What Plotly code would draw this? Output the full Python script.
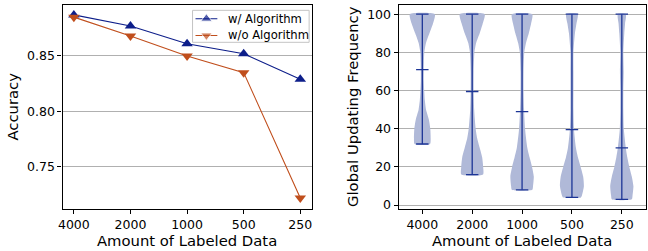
import plotly.graph_objects as go

# ---------------- data ----------------
categories = ["4000", "2000", "1000", "500", "250"]
series_names = ["w/ Algorithm", "w/o Algorithm"]
acc_with = [0.887, 0.877, 0.861, 0.852, 0.829]
acc_without = [0.885, 0.868, 0.850, 0.835, 0.722]

freq_min = [32, 16, 8, 4, 3]
freq_max = [100, 100, 100, 100, 100]
freq_mean = [71, 59.5, 49, 39.5, 30]

# density profiles (relative width, 1 = widest)
v1_levels = [32, 35, 40, 45, 50, 55, 60, 65, 70, 75, 80, 85, 90, 95, 100]
v1_dens = [0.62, 0.67, 0.64, 0.52, 0.30, 0.20, 0.15, 0.12, 0.12, 0.13, 0.16, 0.30, 0.57, 0.85, 1.00]
v2_levels = [16, 20, 25, 30, 35, 40, 50, 60, 70, 80, 85, 90, 95, 100]
v2_dens = [0.87, 0.88, 0.80, 0.60, 0.40, 0.28, 0.16, 0.12, 0.12, 0.18, 0.32, 0.60, 0.84, 1.00]
v3_levels = [8, 10, 15, 20, 25, 30, 40, 50, 60, 70, 80, 85, 90, 95, 100]
v3_dens = [0.82, 0.88, 0.94, 0.80, 0.60, 0.42, 0.24, 0.16, 0.12, 0.12, 0.18, 0.32, 0.54, 0.72, 0.82]
v4_levels = [4, 5, 10, 15, 20, 25, 30, 40, 50, 60, 70, 80, 90, 95, 100]
v4_dens = [0.72, 0.80, 0.96, 0.90, 0.70, 0.48, 0.32, 0.16, 0.12, 0.12, 0.12, 0.12, 0.24, 0.36, 0.46]
v5_levels = [3, 5, 10, 15, 20, 25, 30, 40, 50, 60, 70, 80, 90, 95, 100]
v5_dens = [0.80, 0.86, 0.93, 0.80, 0.60, 0.44, 0.32, 0.16, 0.12, 0.12, 0.15, 0.12, 0.20, 0.26, 0.32]

violin_levels = [v1_levels, v2_levels, v3_levels, v4_levels, v5_levels]
violin_dens = [v1_dens, v2_dens, v3_dens, v4_dens, v5_dens]

# ---------------- style ----------------
FONT = "DejaVu Sans"
BLUE = "#0d1e8a"
ORANGE = "#c04e1c"
VBLUE = "#1c3596"
VFILL = "rgb(176,185,216)"
HALF_W = 0.25
CAP = 0.125
W, H = 648, 251

xi = list(range(len(categories)))
colors = [BLUE, ORANGE]
symbols = ["triangle-up", "triangle-down"]

fig = go.Figure()

# ---- left: accuracy lines ----
for name, vals, c, s in zip(series_names, [acc_with, acc_without], colors, symbols):
    fig.add_trace(go.Scatter(
        x=xi, y=vals, mode="lines+markers", name=name,
        line=dict(color=c, width=1.1),
        marker=dict(symbol=s, size=10, color=c),
        showlegend=False, xaxis="x", yaxis="y"))

# ---- right: violins ----
for i, (lv, dn) in enumerate(zip(violin_levels, violin_dens)):
    xs = [i + HALF_W * d for d in dn] + [i - HALF_W * d for d in reversed(dn)]
    ys = list(lv) + list(reversed(lv))
    fig.add_trace(go.Scatter(
        x=xs + [xs[0]], y=ys + [ys[0]], mode="lines", fill="toself",
        fillcolor=VFILL, line=dict(width=0, color=VFILL, shape="spline", smoothing=0.6),
        showlegend=False, hoverinfo="skip", xaxis="x2", yaxis="y2"))

lx, ly = [], []
for i in xi:
    lx += [i, i, None]
    ly += [freq_min[i], freq_max[i], None]
    for v in (freq_min[i], freq_max[i], freq_mean[i]):
        lx += [i - CAP, i + CAP, None]
        ly += [v, v, None]
fig.add_trace(go.Scatter(x=lx, y=ly, mode="lines", line=dict(color=VBLUE, width=1.3),
                         showlegend=False, hoverinfo="skip", xaxis="x2", yaxis="y2"))

# ---- matplotlib-style legend drawn on an overlay pixel axis over the left plot ----
LX0, LX1, LY0, LY1 = 59, 310, 5, 212          # left plot box in pixels
bx0, bx1, by0, by1 = 190, 307.5, 10.5, 43
rows_y = [19, 36]
for name, c, s, ry in zip(series_names, colors, symbols, rows_y):
    fig.add_trace(go.Scatter(
        x=[193, 204, 215], y=[ry, ry, ry], mode="lines+markers",
        line=dict(color=c, width=1.1),
        marker=dict(symbol=s, size=[0, 10, 0], color=c),
        showlegend=False, hoverinfo="skip", xaxis="x3", yaxis="y3"))
    fig.add_annotation(x=223.5, y=ry, xref="x3", yref="y3", text=name, showarrow=False,
                       xanchor="left", yanchor="middle",
                       font=dict(family=FONT, size=11.6, color="black"))
fig.add_shape(type="rect", xref="paper", yref="paper",
              x0=bx0 / W, x1=bx1 / W, y0=1 - by1 / H, y1=1 - by0 / H,
              layer="above", fillcolor="rgba(0,0,0,0)",
              line=dict(color="#c4c4c4", width=1))

axis_common = dict(
    showline=True, linecolor="black", linewidth=1.2, mirror=True,
    ticks="outside", ticklen=4, tickcolor="black", tickwidth=1,
    tickfont=dict(family=FONT, size=12.5, color="black"), zeroline=False)

fig.update_layout(
    width=W, height=H, margin=dict(l=0, r=0, t=0, b=0),
    paper_bgcolor="white", plot_bgcolor="white",
    font=dict(family=FONT, color="black"),
    xaxis=dict(domain=[LX0 / W, LX1 / W], range=[-0.2, 4.2], tickvals=xi, ticktext=categories,
               showgrid=False, anchor="y",
               title=dict(text="Amount of Labeled Data", font=dict(family=FONT, size=14.8), standoff=2),
               **axis_common),
    yaxis=dict(domain=[1 - LY1 / H, 1 - LY0 / H], range=[0.7125, 0.896],
               tickvals=[0.75, 0.80, 0.85], tickformat=".2f", anchor="x",
               showgrid=True, gridcolor="#b0b0b0", gridwidth=1,
               title=dict(text="Accuracy", font=dict(family=FONT, size=14.8), standoff=4),
               **axis_common),
    xaxis2=dict(domain=[397.7 / W, 646.5 / W], range=[-0.475, 4.475], tickvals=xi, ticktext=categories,
                showgrid=False, anchor="y2",
                title=dict(text="Amount of Labeled Data", font=dict(family=FONT, size=14.8), standoff=2),
                **axis_common),
    yaxis2=dict(domain=[1 - 212 / H, 1 - 5 / H], range=[-1.85, 104.85],
                tickvals=[0, 20, 40, 60, 80, 100], anchor="x2",
                showgrid=True, gridcolor="#b0b0b0", gridwidth=1,
                title=dict(text="Global Updating Frequency", font=dict(family=FONT, size=14.8), standoff=4),
                **axis_common),
    xaxis3=dict(overlaying="x", range=[LX0, LX1], visible=False, fixedrange=True, anchor="y3"),
    yaxis3=dict(overlaying="y", range=[LY1, LY0], visible=False, fixedrange=True, anchor="x3"),
    showlegend=False,
)

fig.write_html(
    "out.html",
    config={"displayModeBar": False},
    post_script="document.body.style.margin='0';document.body.style.padding='0';"
                "document.body.style.overflow='hidden';",
)
